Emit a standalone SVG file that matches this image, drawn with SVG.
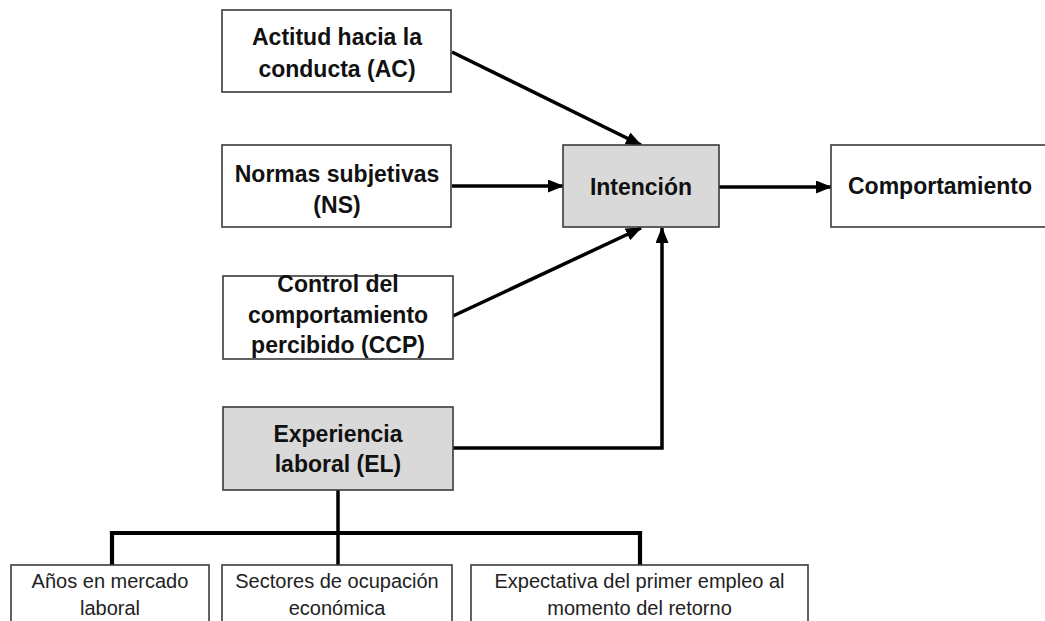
<svg xmlns="http://www.w3.org/2000/svg" width="1045" height="621" viewBox="0 0 1045 621">
<style>
.box{fill:#fff;stroke:#3a3a3a;stroke-width:1.6}
.gbox{fill:#d9d9d9;stroke:#3a3a3a;stroke-width:1.6}
.b{font-family:"Liberation Sans",Arial,sans-serif;font-weight:bold;font-size:23px;fill:#111;text-anchor:middle}
.r{font-family:"Liberation Sans",Arial,sans-serif;font-size:20px;fill:#222;text-anchor:middle}
.c{fill:none;stroke:#000;stroke-width:3.5}
.t{fill:none;stroke:#000;stroke-width:4.2}
</style>
<defs>
<marker id="ah" markerUnits="userSpaceOnUse" markerWidth="16" markerHeight="13" refX="15" refY="6.5" orient="auto">
<path d="M0,0 L16,6.5 L0,13 z" fill="#000"/>
</marker>
</defs>
<rect width="1045" height="621" fill="#fff"/>
<g id="connectors">
<line class="c" x1="452" y1="52" x2="641" y2="145" marker-end="url(#ah)"/>
<line class="c" x1="452" y1="186" x2="563" y2="186" marker-end="url(#ah)"/>
<line class="c" x1="453" y1="316" x2="641" y2="228" marker-end="url(#ah)"/>
<polyline class="c" points="453,448 662,448 662,228" marker-end="url(#ah)"/>
<line class="c" x1="719" y1="187" x2="831" y2="187" marker-end="url(#ah)"/>
<line class="c" x1="338" y1="490" x2="338" y2="565"/>
<polyline class="t" points="112,565 112,533 640,533 640,565"/>
</g>
<g id="ac">
<rect class="box" x="222" y="10" width="229" height="82"/>
<text class="b" x="337" y="45">Actitud hacia la</text>
<text class="b" x="337" y="77">conducta (AC)</text>
</g>
<g id="ns">
<rect class="box" x="222" y="145" width="229" height="82"/>
<text class="b" x="337" y="182">Normas subjetivas</text>
<text class="b" x="337" y="213">(NS)</text>
</g>
<g id="ccp">
<rect class="box" x="223" y="276" width="230" height="83"/>
<text class="b" x="338" y="292">Control del</text>
<text class="b" x="338" y="323">comportamiento</text>
<text class="b" x="338" y="353">percibido (CCP)</text>
</g>
<g id="el">
<rect class="gbox" x="223" y="407" width="230" height="83"/>
<text class="b" x="338" y="442">Experiencia</text>
<text class="b" x="338" y="472">laboral (EL)</text>
</g>
<g id="intencion">
<rect class="gbox" x="563" y="145" width="156" height="82"/>
<text class="b" x="641" y="195">Intención</text>
</g>
<g id="comportamiento">
<rect class="box" x="831" y="145" width="230" height="82"/>
<text class="b" x="940" y="194">Comportamiento</text>
</g>
<g id="anos">
<rect class="box" x="11" y="565" width="198" height="80"/>
<text class="r" x="110" y="588">Años en mercado</text>
<text class="r" x="110" y="615">laboral</text>
</g>
<g id="sectores">
<rect class="box" x="222" y="565" width="230" height="80"/>
<text class="r" x="337" y="588">Sectores de ocupación</text>
<text class="r" x="337" y="615">económica</text>
</g>
<g id="expectativa">
<rect class="box" x="471" y="565" width="337" height="80"/>
<text class="r" x="639.5" y="588">Expectativa del primer empleo al</text>
<text class="r" x="639.5" y="615">momento del retorno</text>
</g>
</svg>
